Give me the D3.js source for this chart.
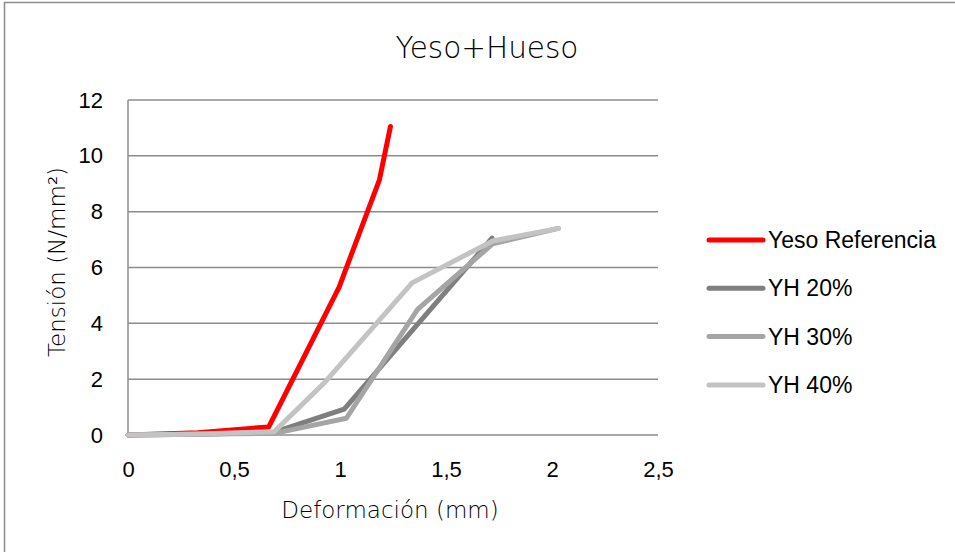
<!DOCTYPE html>
<html>
<head>
<meta charset="utf-8">
<script src="https://cdn.jsdelivr.net/npm/d3@7"></script>
<style>
  body { margin: 0; background: #fff; }
</style>
</head>
<body>
<div id="chart"></div>
<script>
// Series values (x = deformación mm, y = tensión N/mm²)
const seriesNames = ["Yeso Referencia", "YH 20%", "YH 30%", "YH 40%"];
const seriesColors = ["#ff0000", "#7f7f7f", "#a5a5a5", "#c3c3c3"];

const yesoRefX = [0, 0.33, 0.664, 0.996, 1.186, 1.238];
const yesoRefY = [0, 0.08, 0.29, 5.3, 9.14, 11.05];

const yh20X = [0, 0.33, 0.69, 1.02, 1.717];
const yh20Y = [0, 0.03, 0.1, 0.93, 7.05];

const yh30X = [0, 0.33, 0.69, 1.03, 1.366, 1.72, 2.03];
const yh30Y = [0, 0.03, 0.06, 0.6, 4.5, 6.85, 7.4];

const yh40X = [0, 0.33, 0.69, 0.93, 1.34, 1.72, 2.03];
const yh40Y = [0, 0.04, 0.12, 1.9, 5.45, 6.95, 7.4];

const xTicks = [0, 0.5, 1, 1.5, 2, 2.5];
const yTicks = [0, 2, 4, 6, 8, 10, 12];

const width = 955, height = 552;
const margin = {top: 100, right: 300, bottom: 117, left: 128};

const series = [
  {name: seriesNames[0], color: seriesColors[0], values: d3.zip(yesoRefX, yesoRefY)},
  {name: seriesNames[1], color: seriesColors[1], values: d3.zip(yh20X, yh20Y)},
  {name: seriesNames[2], color: seriesColors[2], values: d3.zip(yh30X, yh30Y)},
  {name: seriesNames[3], color: seriesColors[3], values: d3.zip(yh40X, yh40Y)}
];

const x = d3.scaleLinear([0, 2.5], [margin.left, width - margin.right + 3]);
const y = d3.scaleLinear([0, 12], [height - margin.bottom, margin.top]);

const svg = d3.select("#chart")
  .append("svg")
  .attr("width", width)
  .attr("height", height)
  .attr("viewBox", [0, 0, width, height]);

// outer chart frame (runs off the right and bottom edges)
svg.append("rect")
  .attr("x", 4.5).attr("y", 2.5)
  .attr("width", 1000).attr("height", 600)
  .attr("fill", "none")
  .attr("stroke", "#8c8c8c")
  .attr("stroke-width", 1.5);

const thinFont = "'DejaVu Sans', sans-serif";

svg.append("text")
  .attr("x", 487).attr("y", 58)
  .attr("text-anchor", "middle")
  .style("font-family", thinFont)
  .style("font-weight", 200)
  .style("font-size", "29.5px")
  .attr("fill", "#000")
  .text("Yeso+Hueso");

// gridlines
svg.append("g")
  .attr("stroke", "#8c8c8c")
  .attr("stroke-width", 1.5)
  .selectAll("line")
  .data(yTicks)
  .join("line")
  .attr("x1", x(0)).attr("x2", x(2.5))
  .attr("y1", d => y(d)).attr("y2", d => y(d));

// y axis line
svg.append("line")
  .attr("x1", x(0)).attr("x2", x(0))
  .attr("y1", y(0)).attr("y2", y(12))
  .attr("stroke", "#8c8c8c")
  .attr("stroke-width", 1.5);

const tickFont = "22px 'Liberation Sans'";

const yAxis = d3.axisLeft(y)
  .tickValues(yTicks)
  .tickSize(0)
  .tickPadding(25)
  .tickFormat(d3.format("d"));

svg.append("g")
  .attr("transform", `translate(${x(0)},0)`)
  .call(yAxis)
  .call(g => g.select(".domain").remove())
  .call(g => g.selectAll("text").style("font", tickFont).attr("fill", "#000"));

const commaFmt = d => String(d).replace(".", ",");
const xAxis = d3.axisBottom(x)
  .tickValues(xTicks)
  .tickSize(0)
  .tickPadding(26)
  .tickFormat(commaFmt);

svg.append("g")
  .attr("transform", `translate(0,${y(0)})`)
  .call(xAxis)
  .call(g => g.select(".domain").remove())
  .call(g => g.selectAll("text").style("font", tickFont).attr("fill", "#000"));

// axis titles
svg.append("text")
  .attr("x", 390).attr("y", 518)
  .attr("text-anchor", "middle")
  .style("font-family", thinFont)
  .style("font-weight", 200)
  .style("font-size", "23px")
  .text("Deformación (mm)");

svg.append("text")
  .attr("transform", "translate(65,262) rotate(-90)")
  .attr("text-anchor", "middle")
  .style("font-family", thinFont)
  .style("font-weight", 200)
  .style("font-size", "23px")
  .text("Tensión (N/mm²)");

// lines
const line = d3.line()
  .x(d => x(d[0]))
  .y(d => y(d[1]));

svg.append("g")
  .attr("fill", "none")
  .attr("stroke-width", 5)
  .attr("stroke-linejoin", "round")
  .attr("stroke-linecap", "round")
  .selectAll("path")
  .data(series)
  .join("path")
  .attr("stroke", d => d.color)
  .attr("d", d => line(d.values));

// legend
const legend = svg.append("g")
  .selectAll("g")
  .data(series)
  .join("g")
  .attr("transform", (d, i) => `translate(709,${240 + i * 48.3})`);

legend.append("line")
  .attr("x1", 0).attr("x2", 54)
  .attr("stroke", d => d.color)
  .attr("stroke-width", 5)
  .attr("stroke-linecap", "round");

legend.append("text")
  .attr("x", 59)
  .attr("dy", "0.35em")
  .style("font", "23px 'Liberation Sans'")
  .attr("fill", "#000")
  .text(d => d.name);
</script>
</body>
</html>
